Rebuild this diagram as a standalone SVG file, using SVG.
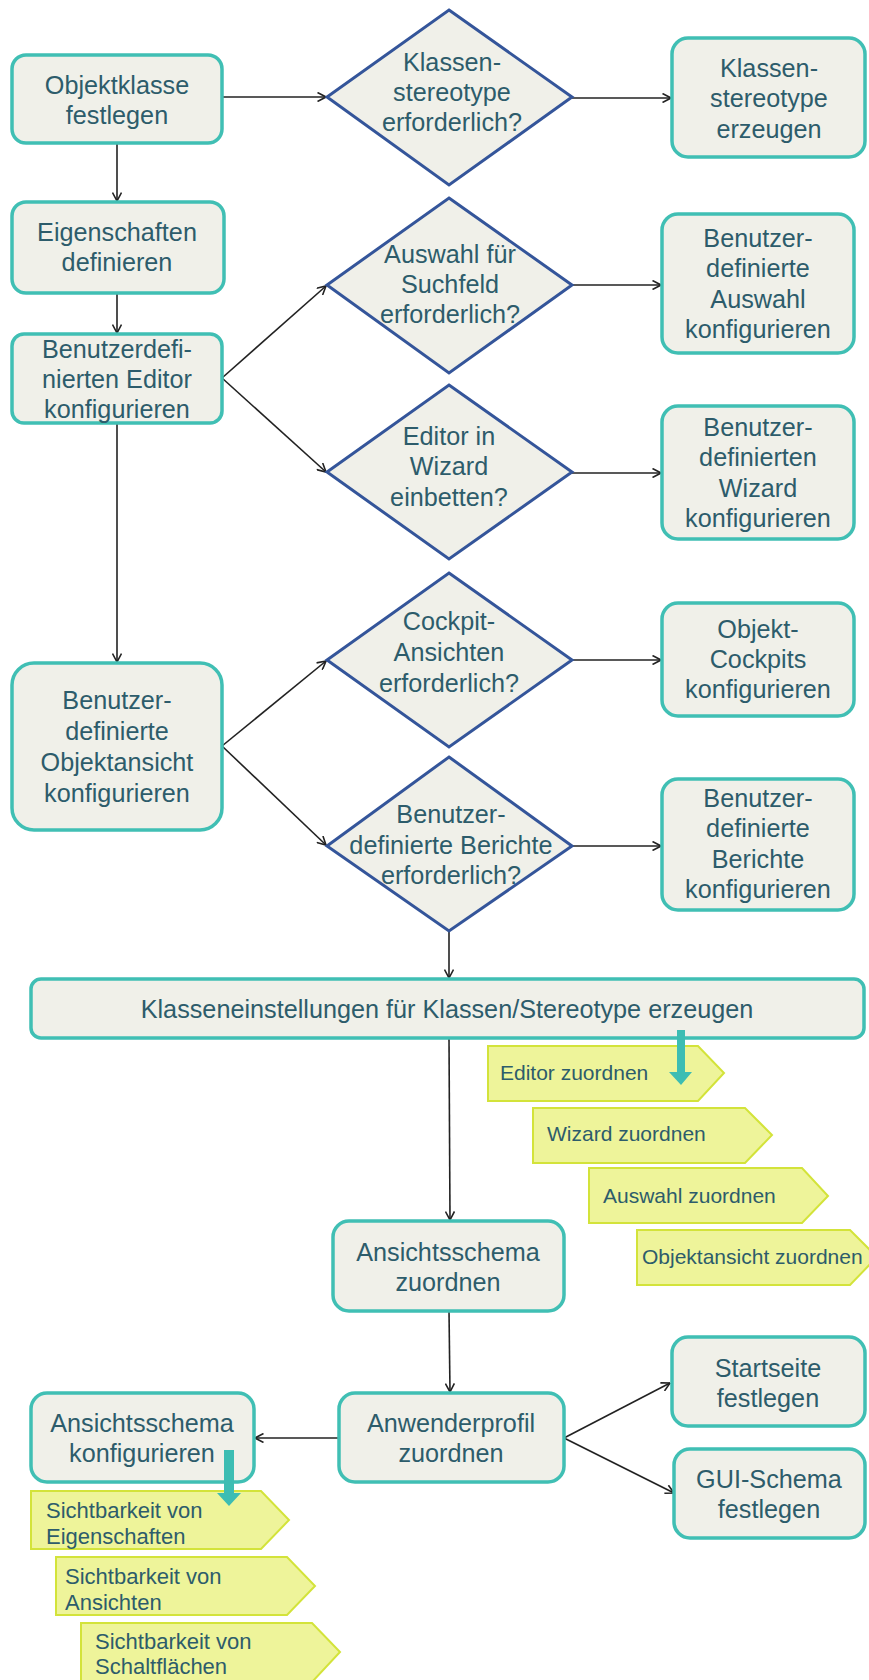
<svg xmlns="http://www.w3.org/2000/svg" width="869" height="1680" viewBox="0 0 869 1680">
<defs>
<style>
.box{fill:#F0F0E9;stroke:#40BFB4;stroke-width:3.5}
.dia{fill:#F0F0E9;stroke:#34559A;stroke-width:3}
.tag{fill:#EEF49A;stroke:#D3E33A;stroke-width:2}
.t{font-family:"Liberation Sans",Arial,sans-serif;font-size:26px;fill:#2D5C6B;text-anchor:middle}
.tg{font-family:"Liberation Sans",Arial,sans-serif;font-size:21px;fill:#2D5C6B}
.tb{font-family:"Liberation Sans",Arial,sans-serif;font-size:22px;fill:#2D5C6B}
.c{fill:none;stroke:#222;stroke-width:1.6}
.fat{fill:#3DBDB3}
</style>
<marker id="ah" viewBox="0 0 10 10" refX="9.5" refY="5" markerWidth="10" markerHeight="10" markerUnits="userSpaceOnUse" orient="auto">
<path d="M1,0.5 L9.5,5 L1,9.5" fill="none" stroke="#222" stroke-width="1.6"/>
</marker>
</defs>
<rect width="869" height="1680" fill="#fff"/>

<g id="connectors">
<line class="c" x1="222" y1="97" x2="326" y2="97" marker-end="url(#ah)"/>
<line class="c" x1="572" y1="98" x2="671" y2="98" marker-end="url(#ah)"/>
<line class="c" x1="117" y1="143" x2="117" y2="201" marker-end="url(#ah)"/>
<line class="c" x1="117" y1="293" x2="117" y2="333" marker-end="url(#ah)"/>
<line class="c" x1="222" y1="378" x2="326" y2="286" marker-end="url(#ah)"/>
<line class="c" x1="222" y1="378" x2="326" y2="472" marker-end="url(#ah)"/>
<line class="c" x1="572" y1="285" x2="661" y2="285" marker-end="url(#ah)"/>
<line class="c" x1="572" y1="473" x2="661" y2="473" marker-end="url(#ah)"/>
<line class="c" x1="117" y1="423" x2="117" y2="662" marker-end="url(#ah)"/>
<line class="c" x1="222" y1="746" x2="326" y2="661" marker-end="url(#ah)"/>
<line class="c" x1="222" y1="746" x2="326" y2="845" marker-end="url(#ah)"/>
<line class="c" x1="572" y1="660" x2="661" y2="660" marker-end="url(#ah)"/>
<line class="c" x1="572" y1="846" x2="661" y2="846" marker-end="url(#ah)"/>
<line class="c" x1="449" y1="931" x2="449" y2="978" marker-end="url(#ah)"/>
<line class="c" x1="449" y1="1038" x2="450" y2="1220" marker-end="url(#ah)"/>
<line class="c" x1="449" y1="1311" x2="450" y2="1392" marker-end="url(#ah)"/>
<line class="c" x1="339" y1="1438" x2="255" y2="1438" marker-end="url(#ah)"/>
<line class="c" x1="564" y1="1438" x2="670" y2="1383" marker-end="url(#ah)"/>
<line class="c" x1="564" y1="1438" x2="674" y2="1493" marker-end="url(#ah)"/>
</g>

<g id="n_objektklasse">
<rect class="box" x="12" y="55" width="210" height="88" rx="14"/>
<text class="t" transform="translate(117 0) scale(0.97 1) translate(-117 0)"><tspan x="117" y="94">Objektklasse</tspan><tspan x="117" y="124">festlegen</tspan></text>
</g>
<g id="n_dia_stereotype">
<polygon class="dia" points="449,10 572,97 449,185 327,97"/>
<text class="t" transform="translate(452 0) scale(0.97 1) translate(-452 0)"><tspan x="452" y="71">Klassen-</tspan><tspan x="452" y="101">stereotype</tspan><tspan x="452" y="131">erforderlich?</tspan></text>
</g>
<g id="n_stereotype_erzeugen">
<rect class="box" x="672" y="38" width="193" height="119" rx="16"/>
<text class="t" transform="translate(769 0) scale(0.97 1) translate(-769 0)"><tspan x="769" y="77">Klassen-</tspan><tspan x="769" y="107">stereotype</tspan><tspan x="769" y="138">erzeugen</tspan></text>
</g>
<g id="n_eigenschaften">
<rect class="box" x="12" y="202" width="212" height="91" rx="14"/>
<text class="t" transform="translate(117 0) scale(0.97 1) translate(-117 0)"><tspan x="117" y="241">Eigenschaften</tspan><tspan x="117" y="271">definieren</tspan></text>
</g>
<g id="n_editor">
<rect class="box" x="12" y="334" width="210" height="89" rx="12"/>
<text class="t" transform="translate(117 0) scale(0.97 1) translate(-117 0)"><tspan x="117" y="358">Benutzerdefi-</tspan><tspan x="117" y="388">nierten Editor</tspan><tspan x="117" y="418">konfigurieren</tspan></text>
</g>
<g id="n_dia_auswahl">
<polygon class="dia" points="449,198 572,285 449,373 327,285"/>
<text class="t" transform="translate(450 0) scale(0.97 1) translate(-450 0)"><tspan x="450" y="263">Auswahl für</tspan><tspan x="450" y="293">Suchfeld</tspan><tspan x="450" y="323">erforderlich?</tspan></text>
</g>
<g id="n_auswahl_konf">
<rect class="box" x="662" y="214" width="192" height="139" rx="16"/>
<text class="t" transform="translate(758 0) scale(0.97 1) translate(-758 0)"><tspan x="758" y="247">Benutzer-</tspan><tspan x="758" y="277">definierte</tspan><tspan x="758" y="308">Auswahl</tspan><tspan x="758" y="338">konfigurieren</tspan></text>
</g>
<g id="n_dia_wizard">
<polygon class="dia" points="449,385 572,472 449,559 327,472"/>
<text class="t" transform="translate(449 0) scale(0.97 1) translate(-449 0)"><tspan x="449" y="445">Editor in</tspan><tspan x="449" y="475">Wizard</tspan><tspan x="449" y="506">einbetten?</tspan></text>
</g>
<g id="n_wizard_konf">
<rect class="box" x="662" y="406" width="192" height="133" rx="16"/>
<text class="t" transform="translate(758 0) scale(0.97 1) translate(-758 0)"><tspan x="758" y="436">Benutzer-</tspan><tspan x="758" y="466">definierten</tspan><tspan x="758" y="497">Wizard</tspan><tspan x="758" y="527">konfigurieren</tspan></text>
</g>
<g id="n_objektansicht">
<rect class="box" x="12" y="663" width="210" height="167" rx="22"/>
<text class="t" transform="translate(117 0) scale(0.97 1) translate(-117 0)"><tspan x="117" y="709">Benutzer-</tspan><tspan x="117" y="740">definierte</tspan><tspan x="117" y="771">Objektansicht</tspan><tspan x="117" y="802">konfigurieren</tspan></text>
</g>
<g id="n_dia_cockpit">
<polygon class="dia" points="449,573 572,660 449,747 327,660"/>
<text class="t" transform="translate(449 0) scale(0.97 1) translate(-449 0)"><tspan x="449" y="630">Cockpit-</tspan><tspan x="449" y="661">Ansichten</tspan><tspan x="449" y="692">erforderlich?</tspan></text>
</g>
<g id="n_cockpits">
<rect class="box" x="662" y="603" width="192" height="113" rx="16"/>
<text class="t" transform="translate(758 0) scale(0.97 1) translate(-758 0)"><tspan x="758" y="638">Objekt-</tspan><tspan x="758" y="668">Cockpits</tspan><tspan x="758" y="698">konfigurieren</tspan></text>
</g>
<g id="n_dia_berichte">
<polygon class="dia" points="449,757 572,846 449,931 327,846"/>
<text class="t" transform="translate(451 0) scale(0.97 1) translate(-451 0)"><tspan x="451" y="823">Benutzer-</tspan><tspan x="451" y="854">definierte Berichte</tspan><tspan x="451" y="884">erforderlich?</tspan></text>
</g>
<g id="n_berichte">
<rect class="box" x="662" y="779" width="192" height="131" rx="16"/>
<text class="t" transform="translate(758 0) scale(0.97 1) translate(-758 0)"><tspan x="758" y="807">Benutzer-</tspan><tspan x="758" y="837">definierte</tspan><tspan x="758" y="868">Berichte</tspan><tspan x="758" y="898">konfigurieren</tspan></text>
</g>
<g id="n_klasseneinstellungen">
<rect class="box" x="31" y="979" width="833" height="59" rx="10"/>
<text class="t" transform="translate(447 0) scale(0.97 1) translate(-447 0)" x="447" y="1018">Klasseneinstellungen für Klassen/Stereotype erzeugen</text>
</g>
<g id="n_tags_top">
<polygon class="tag" points="488,1046 698,1046 724,1073 698,1101 488,1101"/>
<text class="tg" x="500" y="1080">Editor zuordnen</text>
<polygon class="tag" points="533,1108 745,1108 772,1135 745,1163 533,1163"/>
<text class="tg" x="547" y="1141">Wizard zuordnen</text>
<polygon class="tag" points="589,1168 802,1168 828,1196 802,1223 589,1223"/>
<text class="tg" x="603" y="1203">Auswahl zuordnen</text>
<polygon class="tag" points="637,1230 850,1230 877,1257 850,1285 637,1285"/>
<text class="tg" x="642" y="1264">Objektansicht zuordnen</text>
<path class="fat" d="M677,1030 H685 V1072 H692 L681,1085 L669,1072 H677 Z"/>
</g>
<g id="n_ansichtsschema_zuordnen">
<rect class="box" x="333" y="1221" width="231" height="90" rx="16"/>
<text class="t" transform="translate(448 0) scale(0.97 1) translate(-448 0)"><tspan x="448" y="1261">Ansichtsschema</tspan><tspan x="448" y="1291">zuordnen</tspan></text>
</g>
<g id="n_anwenderprofil">
<rect class="box" x="339" y="1393" width="225" height="89" rx="16"/>
<text class="t" transform="translate(451 0) scale(0.97 1) translate(-451 0)"><tspan x="451" y="1432">Anwenderprofil</tspan><tspan x="451" y="1462">zuordnen</tspan></text>
</g>
<g id="n_ansichtsschema_konf">
<rect class="box" x="31" y="1393" width="223" height="89" rx="16"/>
<text class="t" transform="translate(142 0) scale(0.97 1) translate(-142 0)"><tspan x="142" y="1432">Ansichtsschema</tspan><tspan x="142" y="1462">konfigurieren</tspan></text>
</g>
<g id="n_startseite">
<rect class="box" x="672" y="1337" width="193" height="89" rx="16"/>
<text class="t" transform="translate(768 0) scale(0.97 1) translate(-768 0)"><tspan x="768" y="1377">Startseite</tspan><tspan x="768" y="1407">festlegen</tspan></text>
</g>
<g id="n_gui_schema">
<rect class="box" x="674" y="1449" width="191" height="89" rx="16"/>
<text class="t" transform="translate(769 0) scale(0.97 1) translate(-769 0)"><tspan x="769" y="1488">GUI-Schema</tspan><tspan x="769" y="1518">festlegen</tspan></text>
</g>
<g id="n_tags_bottom">
<polygon class="tag" points="31,1491 261,1491 289,1520 261,1549 31,1549"/>
<text class="tb"><tspan x="46" y="1518">Sichtbarkeit von</tspan><tspan x="46" y="1544">Eigenschaften</tspan></text>
<polygon class="tag" points="56,1557 287,1557 315,1586 287,1615 56,1615"/>
<text class="tb"><tspan x="65" y="1584">Sichtbarkeit von</tspan><tspan x="65" y="1610">Ansichten</tspan></text>
<polygon class="tag" points="81,1623 312,1623 340,1652 312,1682 81,1682"/>
<text class="tb"><tspan x="95" y="1649">Sichtbarkeit von</tspan><tspan x="95" y="1674">Schaltflächen</tspan></text>
<path class="fat" d="M224,1450 H234 V1493 H241 L229,1506 L217,1493 H224 Z"/>
</g>
</svg>
